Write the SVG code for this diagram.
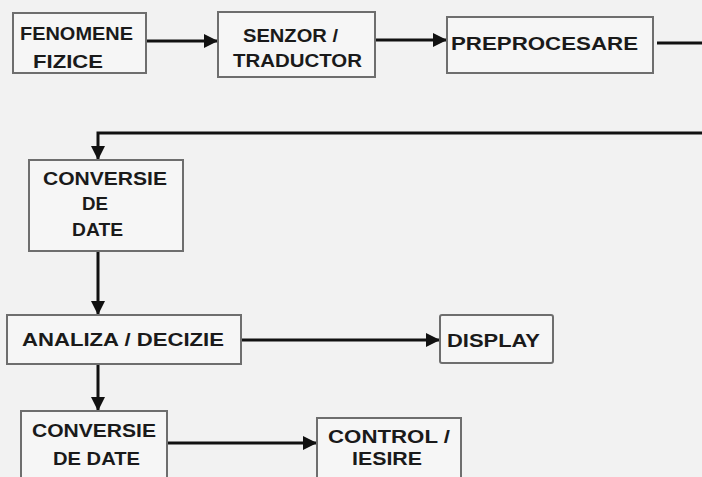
<svg xmlns="http://www.w3.org/2000/svg" width="702" height="477" viewBox="0 0 702 477">
<defs>
<style>
.box{fill:#f6f6f6;stroke:#6e6e6e;stroke-width:2}
.t{font-family:"Liberation Sans",Arial,sans-serif;font-weight:bold;font-size:19px;fill:#1a1a1a}
.c{fill:none;stroke:#111;stroke-width:3}
</style>
<marker id="ah" markerUnits="userSpaceOnUse" markerWidth="15" markerHeight="14" refX="14" refY="7" orient="auto">
<path d="M0,0 L14,7 L0,14 Z" fill="#111"/>
</marker>
</defs>
<rect width="702" height="477" fill="#f2f2f2"/>
<g id="connectors">
<line class="c" x1="146" y1="41" x2="218" y2="41" marker-end="url(#ah)"/>
<line class="c" x1="375" y1="40" x2="447" y2="40" marker-end="url(#ah)"/>
<path class="c" d="M657,43 H706 V133 H98 V160" marker-end="url(#ah)"/>
<line class="c" x1="98" y1="251" x2="98" y2="315" marker-end="url(#ah)"/>
<line class="c" x1="242" y1="340" x2="440" y2="340" marker-end="url(#ah)"/>
<line class="c" x1="98" y1="364" x2="98" y2="411" marker-end="url(#ah)"/>
<line class="c" x1="168" y1="443" x2="317" y2="443" marker-end="url(#ah)"/>
</g>
<g id="fenomene">
<rect class="box" x="13" y="13" width="133" height="60"/>
<text class="t" x="20" y="40" textLength="113" lengthAdjust="spacingAndGlyphs">FENOMENE</text>
<text class="t" x="33" y="68" textLength="70" lengthAdjust="spacingAndGlyphs">FIZICE</text>
</g>
<g id="senzor">
<rect class="box" x="218" y="12" width="157" height="65"/>
<text class="t" x="243" y="42" textLength="95" lengthAdjust="spacingAndGlyphs">SENZOR /</text>
<text class="t" x="233" y="67" textLength="129" lengthAdjust="spacingAndGlyphs">TRADUCTOR</text>
</g>
<g id="preprocesare">
<rect class="box" x="447" y="17" width="206" height="56"/>
<text class="t" x="451" y="50" textLength="187" lengthAdjust="spacingAndGlyphs">PREPROCESARE</text>
</g>
<g id="conversie1">
<rect class="box" x="29" y="160" width="154" height="91"/>
<text class="t" x="43" y="185" textLength="124" lengthAdjust="spacingAndGlyphs">CONVERSIE</text>
<text class="t" x="82" y="210" textLength="26" lengthAdjust="spacingAndGlyphs">DE</text>
<text class="t" x="72" y="236" textLength="51" lengthAdjust="spacingAndGlyphs">DATE</text>
</g>
<g id="analiza">
<rect class="box" x="7" y="315" width="234" height="49"/>
<text class="t" x="22" y="346" textLength="202" lengthAdjust="spacingAndGlyphs">ANALIZA / DECIZIE</text>
</g>
<g id="display">
<rect class="box" x="440" y="315" width="113" height="48" rx="2"/>
<text class="t" x="447" y="347" textLength="93" lengthAdjust="spacingAndGlyphs">DISPLAY</text>
</g>
<g id="conversie2">
<rect class="box" x="21" y="411" width="146" height="72"/>
<text class="t" x="32" y="437" textLength="124" lengthAdjust="spacingAndGlyphs">CONVERSIE</text>
<text class="t" x="53" y="465" textLength="87" lengthAdjust="spacingAndGlyphs">DE DATE</text>
</g>
<g id="control">
<rect class="box" x="317" y="418" width="144" height="65"/>
<text class="t" x="328" y="443" textLength="122" lengthAdjust="spacingAndGlyphs">CONTROL /</text>
<text class="t" x="352" y="465" textLength="70" lengthAdjust="spacingAndGlyphs">IESIRE</text>
</g>
</svg>
